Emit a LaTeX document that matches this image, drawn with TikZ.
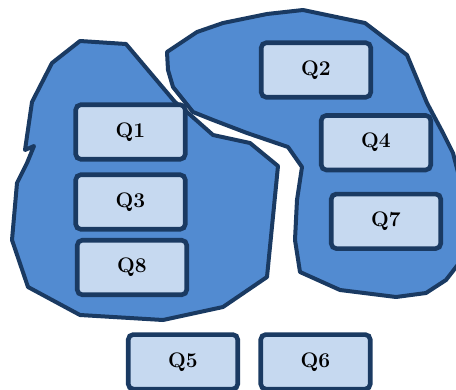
\documentclass[tikz,border=0pt]{standalone}
\usepackage{fontspec}
\usepackage{tikz}
\definecolor{blobfill}{RGB}{82,139,209}
\definecolor{navy}{RGB}{26,58,98}
\definecolor{boxfill}{RGB}{198,217,240}
\begin{document}
\begin{tikzpicture}[x=1pt,y=-1pt,
  blob/.style={fill=blobfill,draw=navy,line width=4pt,line join=round},
  qbox/.style={draw=navy,fill=boxfill,line width=4.6pt,rounded corners=5pt,
    minimum width=109.5pt,minimum height=54.5pt,inner sep=0pt,
    font=\fontsize{21}{24}\selectfont\bfseries}]
\useasboundingbox (0,0) rectangle (456,389);
% left cluster
\draw[blob] (80,41) -- (126,44) -- (175,102) -- (187,112) -- (213,135) -- (250,143)
  -- (278,166) -- (267,277) -- (223,307) -- (163,320) -- (80,315) -- (28,287)
  -- (12,240) -- (17,183) -- (27,163) -- (34,146) -- (25,150) -- (32,102)
  -- (52,63) -- cycle;
% right cluster
\draw[blob] (167,52) -- (197,32) -- (223,23) -- (267,14) -- (303,10) -- (365,23)
  -- (407,55) -- (427,103) -- (443,133) -- (453,153) -- (460,180) -- (460,262)
  -- (446,280) -- (426,293) -- (396,297) -- (340,290) -- (300,272) -- (295,240)
  -- (297,200) -- (302,167) -- (288,147) -- (247,133) -- (213,120) -- (193,112)
  -- (173,87) -- (168,70) -- cycle;
% boxes
\node[qbox] (q1) at (130.5,132) {Q1};
\node[qbox] (q3) at (130.5,202) {Q3};
\node[qbox] (q8) at (132,267.5) {Q8};
\node[qbox] (q2) at (316,70) {Q2};
\node[qbox] (q4) at (376,142.7) {Q4};
\node[qbox] (q7) at (386,221.3) {Q7};
\node[qbox] (q5) at (183,361.8) {Q5};
\node[qbox] (q6) at (315.5,361.8) {Q6};
\end{tikzpicture}
\end{document}
